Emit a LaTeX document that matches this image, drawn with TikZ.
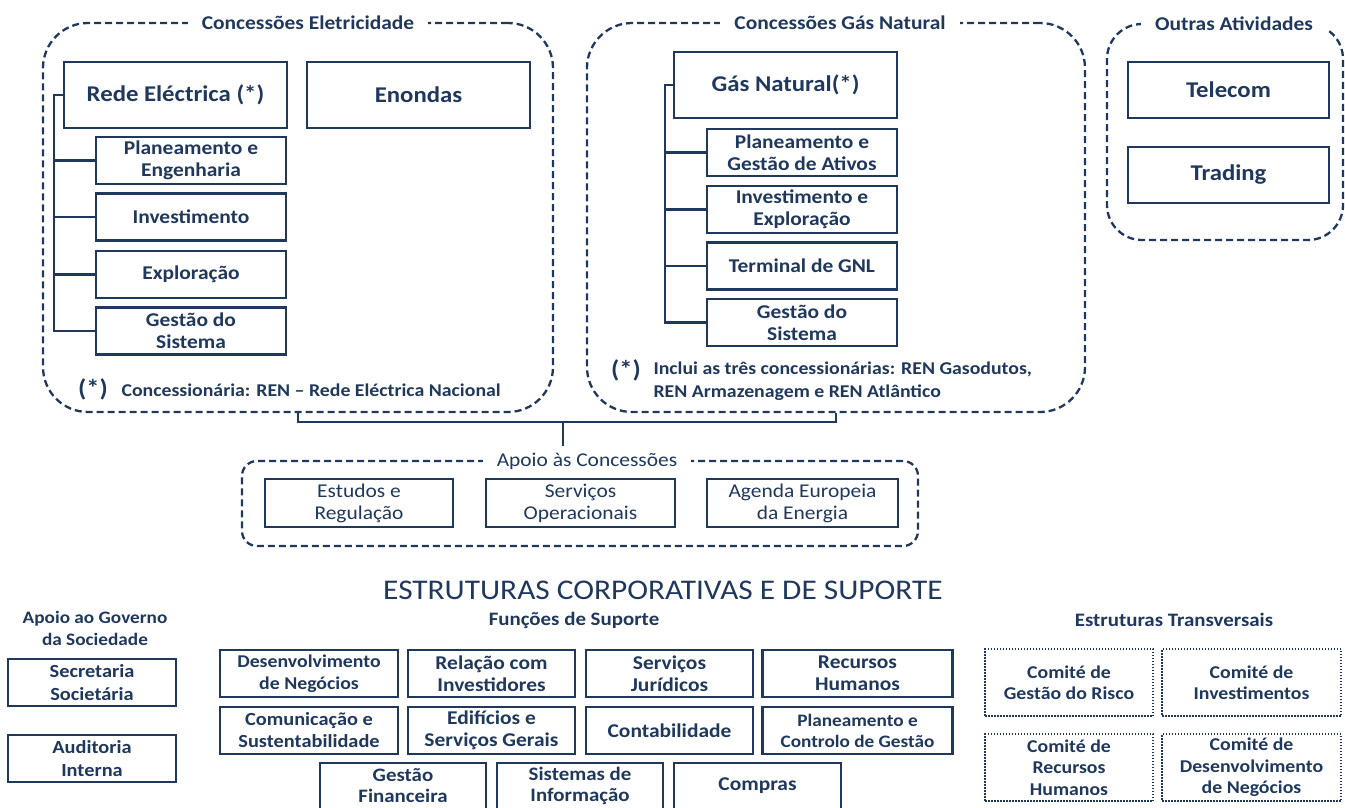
\documentclass[tikz,border=0pt]{standalone}
\usepackage{fontspec}
\setmainfont{Carlito}[FakeStretch=1.1]
\definecolor{renblue}{RGB}{31,56,92}

\tikzset{
	unitbox/.style={draw = renblue, line width = 2.6pt, fill = white,
					align = center, inner sep = 1pt,
					font = \bfseries\fontsize{19.5}{22}\selectfont},
	headbox/.style={unitbox, minimum width = 223pt, minimum height = 66pt,
					font = \bfseries\fontsize{22.5}{26}\selectfont},
	subunit/.style={unitbox, minimum width = 190pt, minimum height = 47pt},
	supportbox/.style={unitbox, minimum height = 48pt,
					font = \fontsize{19.5}{22}\selectfont},
	committeebox/.style={unitbox, line width = 2.4pt,
					dash pattern = on 1.5pt off 1.5pt,
					minimum height = 67pt,
					font = \bfseries\fontsize{18}{21.5}\selectfont},
	groupframe/.style={draw = renblue, line width = 2.3pt,
					dash pattern = on 7pt off 4pt,
					rounded corners = 45pt, inner sep = 0pt},
	grouptitle/.style={fill = white, inner xsep = 14pt, inner ysep = 7pt,
					font = \bfseries\fontsize{19.5}{22}\selectfont},
	sectiontitle/.style={align = center,
					font = \bfseries\fontsize{19}{22}\selectfont},
	notemark/.style={font = \bfseries\fontsize{24}{26}\selectfont},
	notetext/.style={align = left, anchor = west,
					font = \bfseries\fontsize{18}{23}\selectfont},
	link/.style={draw = renblue, line width = 2.6pt},
}

\begin{document}
\begin{tikzpicture}[x = 1pt, y = -1pt, text = renblue]

	\useasboundingbox (0,0) rectangle (1345,807);

	% Concessoes Eletricidade
	\draw (298,217.5) node[groupframe, minimum width = 510pt,
					 minimum height = 389pt] (elecbox) {};
	\draw (308,23) node[grouptitle] (electitle) {Concessões Eletricidade};

	\draw (175.5,95) node[headbox] (rede) {Rede Eléctrica (*)};
	\draw (418.5,95) node[headbox] (enondas) {Enondas};

	\draw (191,160.5) node[subunit] (eplan) {Planeamento e\\Engenharia};
	\draw (191,217) node[subunit] (einv) {Investimento};
	\draw (191,274.5) node[subunit] (eexp) {Exploração};
	\draw (191,331) node[subunit] (egest) {Gestão do\\Sistema};

	\coordinate (etrunk) at (54,95);
	\draw[link] (rede.west) -- (etrunk) |- (egest.west);
	\foreach \n in {eplan, einv, eexp}
		\draw[link] (etrunk |- \n.west) -- (\n.west);

	\draw (93,389) node[notemark] (elecmark) {(*)};
	\draw (118,390) node[notetext] (elecnote)
		{Concessionária: REN – Rede Eléctrica Nacional};

	% Concessoes Gas Natural
	\draw (836,217.5) node[groupframe, minimum width = 498pt,
					 minimum height = 389pt] (gasbox) {};
	\draw (840,23) node[grouptitle] (gastitle) {Concessões Gás Natural};

	\draw (785.5,85) node[headbox] (gasnat) {Gás Natural(*)};

	\draw (802,152.5) node[subunit] (gplan) {Planeamento e\\Gestão de Ativos};
	\draw (802,209.5) node[subunit] (ginv) {Investimento e\\Exploração};
	\draw (802,266) node[subunit] (gterm) {Terminal de GNL};
	\draw (802,322.5) node[subunit] (ggest) {Gestão do\\Sistema};

	\coordinate (gtrunk) at (665,85);
	\draw[link] (gasnat.west) -- (gtrunk) |- (ggest.west);
	\foreach \n in {gplan, ginv, gterm}
		\draw[link] (gtrunk |- \n.west) -- (\n.west);

	\draw (626,370) node[notemark] (gasmark) {(*)};
	\draw (650,381.5) node[notetext] (gasnote)
		{Inclui as três concessionárias: REN Gasodutos,\\
		 REN Armazenagem e REN Atlântico};

	% Outras Atividades
	\draw (1225,132) node[groupframe, rounded corners = 35pt,
					 minimum width = 236pt, minimum height = 216pt] (outrasbox) {};
	\draw (1234,24) node[grouptitle] (outrastitle) {Outras Atividades};
	\draw (1228.5,90) node[headbox, minimum width = 201pt,
					 minimum height = 56pt] (telecom) {Telecom};
	\draw (1228.5,175) node[headbox, minimum width = 201pt,
					 minimum height = 56pt] (trading) {Trading};

	% Apoio as Concessoes
	\draw (580,503.5) node[groupframe, rounded corners = 15pt,
					 minimum width = 676pt, minimum height = 85pt] (apoiobox) {};
	\draw (587,461) node[grouptitle, font = \fontsize{19.5}{22}\selectfont]
		(apoiotitle) {Apoio às Concessões};

	\draw (359,503) node[supportbox, minimum width = 188pt] (estudos)
		{Estudos e\\Regulação};
	\draw (580.5,503) node[supportbox, minimum width = 189pt] (servop)
		{Serviços\\Operacionais};
	\draw (802.5,503) node[supportbox, minimum width = 191pt] (agenda)
		{Agenda Europeia\\da Energia};

	\coordinate (join) at (563,422);
	\draw[link] (elecbox.south) |- (join) -| (gasbox.south);
	\draw[link] (join) -- (join |- apoiotitle.north);

	% Estruturas corporativas e de suporte
	\draw (663,590) node[font = \fontsize{28.5}{32}\selectfont] (heading)
		{ESTRUTURAS CORPORATIVAS E DE SUPORTE};

	\draw (95,628) node[sectiontitle, font = \bfseries\fontsize{17.5}{22}\selectfont]
		(govtitle) {Apoio ao Governo\\da Sociedade};
	\draw (92,682.5) node[unitbox, minimum width = 168pt, minimum height = 47pt,
					 font = \bfseries\fontsize{18.5}{22.5}\selectfont]
		(secretaria) {Secretaria\\Societária};
	\draw (92,758.5) node[unitbox, minimum width = 168pt, minimum height = 47pt,
					 font = \bfseries\fontsize{18.5}{22.5}\selectfont]
		(auditoria) {Auditoria\\Interna};

	\draw (574,620) node[sectiontitle] (suptitle) {Funções de Suporte};

	\draw (309,673.5) node[unitbox, minimum width = 178pt, minimum height = 47pt,
					 font = \bfseries\fontsize{18}{22}\selectfont]
		(desneg) {Desenvolvimento\\de Negócios};
	\draw (491.5,673.5) node[unitbox, minimum width = 167pt, minimum height = 47pt]
		(relinv) {Relação com\\Investidores};
	\draw (669.5,673.5) node[unitbox, minimum width = 167pt, minimum height = 47pt]
		(servjur) {Serviços\\Jurídicos};
	\draw (857.5,673.5) node[unitbox, minimum width = 190pt, minimum height = 47pt]
		(rechum) {Recursos\\Humanos};

	\draw (309,730.5) node[unitbox, minimum width = 178pt, minimum height = 47pt,
					 font = \bfseries\fontsize{18.5}{22}\selectfont]
		(comsus) {Comunicação e\\Sustentabilidade};
	\draw (491.5,730.5) node[unitbox, minimum width = 167pt, minimum height = 47pt]
		(edif) {Edifícios e\\Serviços Gerais};
	\draw (669.5,730.5) node[unitbox, minimum width = 167pt, minimum height = 47pt]
		(contab) {Contabilidade};
	\draw (857.5,730.5) node[unitbox, minimum width = 190pt, minimum height = 47pt,
					 font = \bfseries\fontsize{17.5}{21}\selectfont]
		(plancg) {Planeamento e\\Controlo de Gestão};

	\draw (403,786) node[unitbox, minimum width = 166pt, minimum height = 46pt,
					 font = \bfseries\fontsize{19}{21}\selectfont]
		(gestfin) {Gestão\\Financeira};
	\draw (580,786) node[unitbox, minimum width = 166pt, minimum height = 46pt,
					 font = \bfseries\fontsize{19}{21}\selectfont]
		(sisinf) {Sistemas de\\Informação};
	\draw (757.5,786) node[unitbox, minimum width = 167pt, minimum height = 46pt]
		(compras) {Compras};

	\draw (1174,620) node[sectiontitle] (transtitle) {Estruturas Transversais};

	\draw (1069,682.5) node[committeebox, minimum width = 168pt] (crisco)
		{Comité de\\Gestão do Risco};
	\draw (1251.5,682.5) node[committeebox, minimum width = 179pt] (cinvest)
		{Comité de\\Investimentos};
	\draw (1069,767.5) node[committeebox, minimum width = 168pt] (crh)
		{Comité de\\Recursos\\Humanos};
	\draw (1251.5,767.5) node[committeebox, minimum width = 179pt] (cdesneg)
		{Comité de\\Desenvolvimento\\de Negócios};

\end{tikzpicture}
\end{document}
